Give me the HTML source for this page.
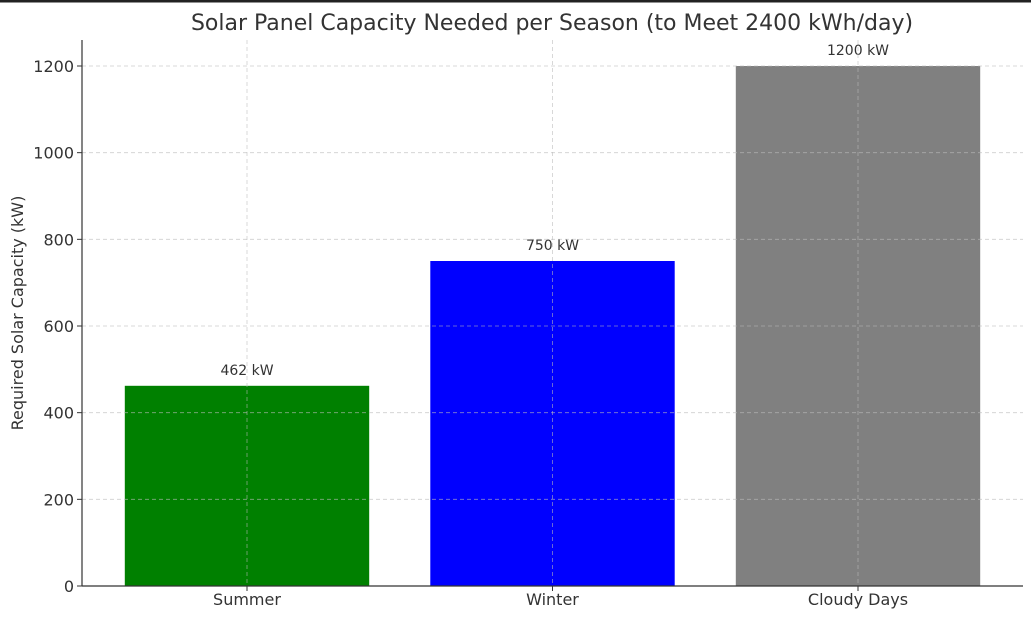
<!DOCTYPE html>
<html><head><meta charset="utf-8"><style>
body{margin:0;background:#fff;font-family:"DejaVu Sans","Liberation Sans",sans-serif}
</style></head><body>
<svg width="1031" height="619" xmlns="http://www.w3.org/2000/svg" id="chart">
<rect x="0" y="0" width="1031" height="2.5" fill="#222"/>
<text x="552" y="30" text-anchor="middle" font-size="22" fill="#333">Solar Panel Capacity Needed per Season (to Meet 2400 kWh/day)</text>
<text transform="translate(23,313) rotate(-90)" text-anchor="middle" font-size="16" fill="#333">Required Solar Capacity (kW)</text>
<g id="plot"></g>
</svg>
<script>
const categories = ["Summer", "Winter", "Cloudy Days"];
const values = [462, 750, 1200];
const colors = ["#008000", "#0000ff", "#808080"];
const labels = ["462 kW", "750 kW", "1200 kW"];
const yTicks = [0, 200, 400, 600, 800, 1000, 1200];

const NS = "http://www.w3.org/2000/svg";
const g = document.getElementById("plot");
const x0 = 82, x1 = 1023, yBase = 586, yTop = 40, yMax = 1260;
const step = 305.5, first = 247;
function xs(i){ return first + i*step; }
function ys(v){ return yBase - v*(yBase-yTop)/yMax; }
function mk(tag, attrs){ const e=document.createElementNS(NS,tag); for(const k in attrs) e.setAttribute(k,attrs[k]); g.appendChild(e); return e; }

categories.forEach((c,i)=>{
  const bw = step*0.8;
  const r = mk("rect",{x:xs(i)-bw/2,y:ys(values[i]),width:bw,height:yBase-ys(values[i]),fill:colors[i]});
  
  
  const t = mk("text",{x:xs(i),y:ys(values[i])-11,"text-anchor":"middle","font-size":"14",fill:"#333"});
  t.textContent = labels[i];
  
  
  const xl = mk("text",{x:xs(i),y:yBase+19,"text-anchor":"middle","font-size":"16",fill:"#333"});
  xl.textContent = c;
  
  
  const gl = mk("line",{x1:xs(i),x2:xs(i),y1:yTop,y2:yBase,stroke:"#bbb","stroke-width":"0.8","stroke-dasharray":"4,3",opacity:"0.7"});
  
  
  const tk = mk("line",{x1:xs(i),x2:xs(i),y1:yBase,y2:yBase+5,stroke:"#333"});
  
  
});
yTicks.forEach(v=>{
  const y = ys(v);
  if (v>0){
    const gl = mk("line",{x1:x0,x2:x1,y1:y,y2:y,stroke:"#bbb","stroke-width":"0.8","stroke-dasharray":"4,3",opacity:"0.7"});
    
    
  }
  const tk = mk("line",{x1:x0-5,x2:x0,y1:y,y2:y,stroke:"#333"});
  
  
  const t = mk("text",{x:x0-8,y:y+6,"text-anchor":"end","font-size":"16",fill:"#333"});
  t.textContent = v;
  
  
});
const ya = mk("line",{x1:x0,x2:x0,y1:yTop,y2:yBase,stroke:"#333","stroke-width":"1.2"});


const xa = mk("line",{x1:x0,x2:x1,y1:yBase,y2:yBase,stroke:"#333","stroke-width":"1.2"});


</script>
</body></html>
